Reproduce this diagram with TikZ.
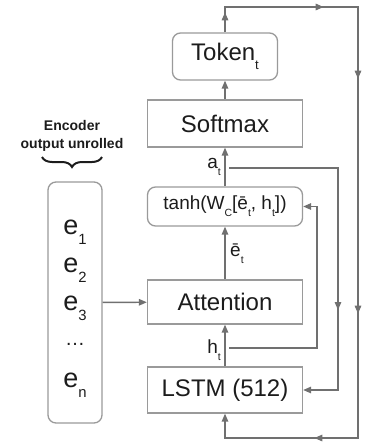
\documentclass[tikz,border=0pt]{standalone}
\usepackage{fontspec}
\setmainfont{Liberation Sans}
\usepackage{tikz}
\usepackage{xcolor}
\usetikzlibrary{arrows.meta,positioning,calc,decorations.markings,decorations.pathreplacing}
\definecolor{edge}{HTML}{9A9A9A}
\definecolor{wire}{HTML}{707070}
\definecolor{ink}{HTML}{1C1C1C}
\newcommand{\lowidx}[1]{\raisebox{-0.38em}{\scalebox{0.55}{#1}}}
\tikzset{
  layer/.style={draw=edge, line width=1.3pt, minimum width=155pt, text=ink,
                font=\fontsize{24}{28}\selectfont, inner sep=0pt},
  rlayer/.style={layer, rounded corners=8pt},
  wire/.style={draw=wire, line width=1.4pt},
  arrow/.style={wire, -{Triangle[length=8pt,width=6.5pt]}},
  tipat/.style={postaction={decorate,decoration={markings,
                mark=at position #1 with {\arrow[color=wire]{Triangle[length=8pt,width=6.5pt]}}}}},
  lbl/.style={text=ink, font=\fontsize{19}{22}\selectfont, inner sep=1pt},
  enctext/.style={text=ink, font=\fontsize{27}{30}\selectfont, inner sep=0pt}
}

\begin{document}
\begin{tikzpicture}[x=1pt,y=-1pt]
  \useasboundingbox (0,0) rectangle (367,445);

  % decoder stack
  \node[rlayer, minimum width=105pt, minimum height=47pt] (token) at (225,56.5) {Token\lowidx{t}};
  \node[layer, minimum height=47pt] (softmax) at (225,123.5) {Softmax};
  \node[rlayer, minimum height=39pt, font=\fontsize{19}{22}\selectfont] (tanh) at (225,206.5)
    {tanh(W\lowidx{C}[\={e}\lowidx{t}, h\lowidx{t}])};
  \node[layer, minimum height=44pt] (attn) at (225,302) {Attention};
  \node[layer, minimum height=46pt] (lstm) at (225,390) {LSTM (512)};

  % encoder outputs
  \node[draw=edge, line width=1.3pt, rounded corners=8pt, minimum width=54pt,
        minimum height=241pt] (enc) at (75,302.5) {};
  \foreach \i/\y in {1/232,2/270,3/308,n/385}
    {\node[enctext] (e\i) at (75,\y) {e\lowidx{\i}};}
  \node[text=ink, font=\fontsize{20}{22}\selectfont] (edots) at (75,344) {\ldots};

  \node[text=ink, font=\bfseries\fontsize{14}{18}\selectfont, align=center] (enclabel) at (72,136)
    {Encoder\\output unrolled};
  \coordinate (bra) at (102,157);
  \coordinate (brb) at (42,157);
  \draw[ink, line width=2pt, decorate, decoration={brace, amplitude=10pt}] (bra) -- (brb);

  % main flow
  \draw[arrow] (lstm) -- (attn);
  \draw[arrow] (attn) -- (tanh);
  \draw[arrow] (tanh) -- (softmax);
  \draw[arrow] (softmax) -- (token);
  \draw[arrow] (enc) -- (attn);

  \node[lbl, anchor=east] (hlab) at (222,350) {h\lowidx{t}};
  \node[lbl, anchor=west] (elab) at (229,254) {\={e}\lowidx{t}};
  \node[lbl, anchor=east] (alab) at (222,167) {a\lowidx{t}};

  % token fed back to the lstm
  \coordinate (tl) at (225,7);
  \coordinate (tr) at (358,7);
  \coordinate (br) at (358,438);
  \coordinate (bl) at (225,438);
  \draw[arrow, tipat=20pt, tipat=124pt, tipat=230pt, tipat=465pt, tipat=633pt]
    (token) -- (tl) -- (tr) -- (br) -- (bl) -- (lstm);

  % attention vector fed back to the lstm
  \coordinate (abr) at (229,168);
  \coordinate (ar) at (338,168);
  \draw[arrow, tipat=251pt] (abr) -- (ar) -- (ar |- lstm) -- (lstm);

  % hidden state into the combine layer
  \coordinate (hbr) at (229,348);
  \coordinate (hr) at (317,348);
  \draw[arrow] (hbr) -- (hr) -- (hr |- tanh) -- (tanh);
\end{tikzpicture}
\end{document}
